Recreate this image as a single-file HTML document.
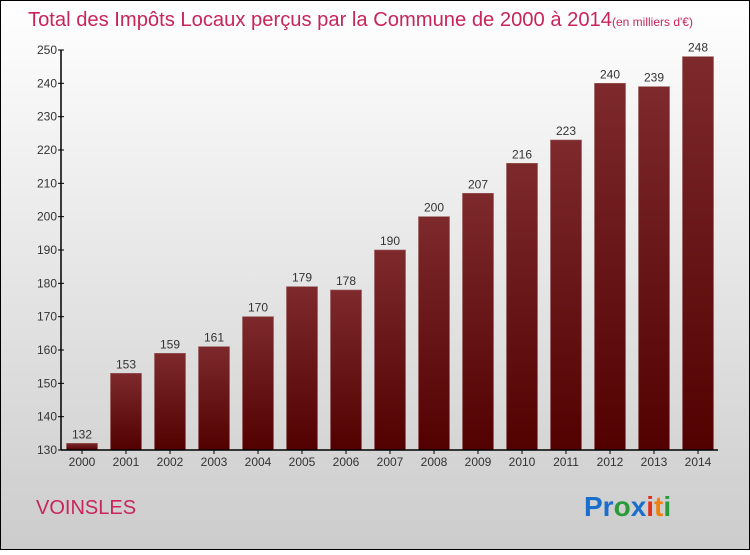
<!DOCTYPE html>
<html><head><meta charset="utf-8"><style>
body{margin:0;}
#c{width:750px;height:550px;position:relative;font-family:"Liberation Sans",sans-serif;}
</style></head><body>
<div id="c">
<svg id="svg" width="750" height="550" xmlns="http://www.w3.org/2000/svg">
<defs>
<linearGradient id="bg" x1="0" y1="0" x2="0" y2="1"><stop offset="0" stop-color="#ffffff"/><stop offset="1" stop-color="#cccccc"/></linearGradient>
<linearGradient id="bar" x1="0" y1="0" x2="0" y2="1"><stop offset="0" stop-color="#7e2a2d"/><stop offset="1" stop-color="#520000"/></linearGradient>
</defs>
<rect x="0.5" y="0.5" width="749" height="549" fill="url(#bg)" stroke="#000"/>
<text x="28" y="26" font-size="20" fill="#c8255a"><tspan textLength="584" lengthAdjust="spacingAndGlyphs">Total des Impôts Locaux perçus par la Commune de 2000 à 2014</tspan><tspan font-size="12">(en milliers d'€)</tspan></text>
<g id="bars"></g>
<g id="axes"></g>
<text x="36" y="514" font-size="20" fill="#c8255a">VOINSLES</text>
<text x="584" y="516" font-size="28" font-weight="bold"><tspan fill="#1a6fcc">Pr</tspan><tspan fill="#2a9a3a">o</tspan><tspan fill="#1a6fcc">x</tspan><tspan fill="#e03020">i</tspan><tspan fill="#f08010">t</tspan><tspan fill="#2a9a3a">i</tspan></text>
</svg>
</div>
<script>
const years=["2000","2001","2002","2003","2004","2005","2006","2007","2008","2009","2010","2011","2012","2013","2014"];
const values=[132,153,159,161,170,179,178,190,200,207,216,223,240,239,248];
const yTicks=[130,140,150,160,170,180,190,200,210,220,230,240,250];
const NS="http://www.w3.org/2000/svg";
const x0=60,band=44,bw=31,yMin=130,yMax=250,yBot=450,yTop=50;
function y(v){return yBot-(v-yMin)*(yBot-yTop)/(yMax-yMin);}
function xc(i){return x0+(i+0.5)*band;}
function mk(t,a,p){const e=document.createElementNS(NS,t);for(const k in a)e.setAttribute(k,a[k]);p.appendChild(e);return e;}
const gb=document.getElementById('bars'),ga=document.getElementById('axes');
values.forEach((v,i)=>{
 const r=mk('rect',{x:xc(i)-bw/2,y:y(v),width:bw,height:yBot-y(v),fill:'url(#bar)',stroke:'#9a5a5a','stroke-width':0.6},gb);
 
 
 const t=mk('text',{x:xc(i),y:y(v)-5,'font-size':12,'text-anchor':'middle',fill:'#333'},gb);
 t.textContent=v;
 
 
 const xl=mk('text',{x:xc(i),y:466,'font-size':12,'text-anchor':'middle',fill:'#333'},ga);
 xl.textContent=years[i];
 
 
 const tk=mk('line',{x1:xc(i),x2:xc(i),y1:yBot,y2:yBot+4,stroke:'#000'},ga);
 
 
});
yTicks.forEach(v=>{
 const l=mk('line',{x1:58,x2:64,y1:y(v),y2:y(v),stroke:'#000'},ga);
 
 
 const t=mk('text',{x:57,y:y(v)+4,'font-size':12,'text-anchor':'end',fill:'#333'},ga);
 t.textContent=v;
 
 
});
const ay=mk('line',{x1:61,x2:61,y1:yTop,y2:yBot,stroke:'#000','stroke-width':1.5},ga);


const ax=mk('line',{x1:61,x2:718,y1:yBot,y2:yBot,stroke:'#000','stroke-width':1.5},ga);


</script>
</body></html>
